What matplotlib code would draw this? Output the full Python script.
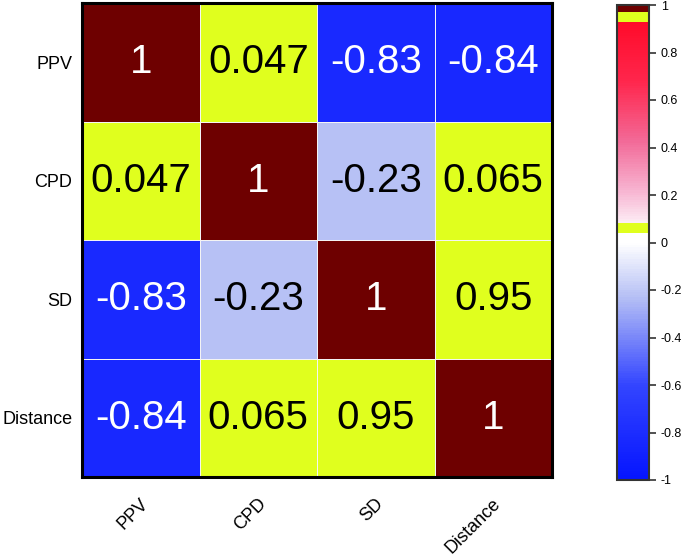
import numpy as np
import matplotlib as mpl
mpl.use("Agg")
import matplotlib.pyplot as plt
from matplotlib.colors import ListedColormap, LinearSegmentedColormap
import matplotlib.transforms as mtransforms

plt.rcParams['font.family'] = ['Liberation Sans', 'DejaVu Sans']

labels = ["PPV", "CPD", "SD", "Distance"]
corr = np.array([
    [1.0, 0.047, -0.83, -0.84],
    [0.047, 1.0, -0.23, 0.065],
    [-0.83, -0.23, 1.0, 0.95],
    [-0.84, 0.065, 0.95, 1.0],
])
cell_text = [
    ["1", "0.047", "-0.83", "-0.84"],
    ["0.047", "1", "-0.23", "0.065"],
    ["-0.83", "-0.23", "1", "0.95"],
    ["-0.84", "0.065", "0.95", "1"],
]

# custom colour scale: blue->white below 0, odd yellow / maroon bands above
yellow = (0.878, 1.0, 0.118)
maroon = (0.43, 0.0, 0.0)
neg = LinearSegmentedColormap.from_list("neg", [
    (0.0, (0.02, 0.08, 1.0)),
    (0.4, (0.2, 0.27, 1.0)),
    (0.77, (0.71, 0.75, 0.96)),
    (1.0, (1.0, 1.0, 1.0)),
])
pos = LinearSegmentedColormap.from_list("pos", [
    (0.0, (0.99, 0.93, 0.96)),
    (0.15, (0.97, 0.72, 0.83)),
    (0.4, (0.95, 0.42, 0.6)),
    (0.7, (1.0, 0.15, 0.3)),
    (1.0, (1.0, 0.04, 0.16)),
])
n = 200
cols = []
for i in range(n):
    v = -1 + (i + 0.5) * 2.0 / n
    if v < 0:
        cols.append(neg(v + 1))
    elif v < 0.04:
        cols.append((1, 1, 1, 1))
    elif v < 0.08:
        cols.append(yellow + (1,))
    elif v < 0.935:
        cols.append(pos((v - 0.08) / (0.935 - 0.08)))
    elif v < 0.97:
        cols.append(yellow + (1,))
    else:
        cols.append(maroon + (1,))
cmap = ListedColormap(cols)

fig = plt.figure(figsize=(6.85, 5.57), dpi=100)
ax = fig.add_axes([82/685, 1 - 477/557, 470/685, 474/557])
mesh = ax.pcolormesh(corr, cmap=cmap, vmin=-1, vmax=1, edgecolors="#f4f4f4", linewidth=0.7)
ax.set_xlim(0, 4)
ax.set_ylim(4, 0)

for i in range(4):
    for j in range(4):
        v = corr[i, j]
        c = "white" if (v > 0.97 or v < -0.5) else "black"
        ax.text(j + 0.5, i + 0.5, cell_text[i][j], ha="center", va="center",
                fontsize=29, color=c)

ax.set_xticks(np.arange(4) + 0.5)
ax.set_yticks(np.arange(4) + 0.5)
ax.set_xticklabels(labels, rotation=45, ha="right", fontsize=13)
ax.set_yticklabels(labels, fontsize=13)
ax.tick_params(length=0)
ax.tick_params(axis="x", pad=13)
ax.tick_params(axis="y", pad=7)
off = mtransforms.ScaledTranslation(11/100, 0, fig.dpi_scale_trans)
for lab in ax.get_xticklabels():
    lab.set_transform(lab.get_transform() + off)
for s in ax.spines.values():
    s.set_linewidth(2.2)

cax = fig.add_axes([617/685, 1 - 480/557, 32/685, 475/557])
cb = fig.colorbar(mesh, cax=cax)
cb.set_ticks([-1, -0.8, -0.6, -0.4, -0.2, 0, 0.2, 0.4, 0.6, 0.8, 1])
cb.set_ticklabels(["-1", "-0.8", "-0.6", "-0.4", "-0.2", "0", "0.2", "0.4", "0.6", "0.8", "1"])
cb.ax.tick_params(labelsize=9, length=5, width=1.2, color="#333333")
cb.outline.set_linewidth(1.5)
cb.outline.set_edgecolor("#333333")

fig.savefig("out.png", dpi=100)
